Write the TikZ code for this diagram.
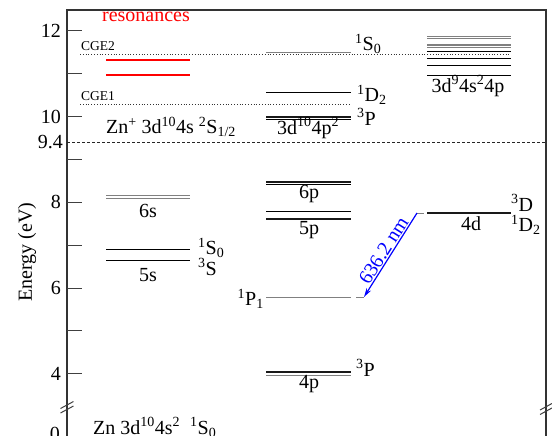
\documentclass[tikz,border=0pt]{standalone}
\usepackage{fontspec}
\setmainfont{Liberation Serif}
\usetikzlibrary{arrows.meta}
\begin{document}
\begin{tikzpicture}[x=1pt,y=-1pt,
  lev/.style={line width=0.9pt,black},
  levthick/.style={line width=1.7pt,black!90},
  levgray/.style={line width=1pt,black!50},
  res/.style={line width=2.8pt,red},
  framel/.style={line width=1.1pt,black!80},
  tickl/.style={line width=1pt,black!75},
  dotl/.style={line width=0.8pt,black!80,dotted},
  dashl/.style={line width=0.8pt,black!85,dash pattern=on 3pt off 2pt},
  lbl/.style={font=\fontsize{20}{22}\selectfont,inner sep=0pt},
  smalllbl/.style={font=\fontsize{13.5}{15}\selectfont,inner sep=0pt},
  transarrow/.style={-{Stealth[length=9pt,width=5pt]},blue,line width=1.2pt}
]
\useasboundingbox (0,0) rectangle (552,436);
% frame
\draw[framel] (67,436) -- (67,10) -- (546,10) -- (546,436);
% axis breaks
\draw[tickl] (60.5,408.5) -- (73.5,401.5) (60.5,413) -- (73.5,406);
\draw[tickl] (540,410) -- (552,403.5) (540,414.5) -- (552,408);
% ticks
\foreach \yy in {30.9,73.75,116.6,159.45,202.3,245.15,288,330.85,373.7}
  \draw[tickl] (67,\yy) -- (82,\yy);
% tick labels
\node[lbl,anchor=east] (t12) at (61,30.9) {12};
\node[lbl,anchor=east] (t10) at (61,116.6) {10};
\node[lbl,anchor=east] (t94) at (63,142.5) {9.4};
\node[lbl,anchor=east] (t8) at (61,202.3) {8};
\node[lbl,anchor=east] (t6) at (61,288) {6};
\node[lbl,anchor=east] (t4) at (61,373.7) {4};
\node[lbl,anchor=east] (t0) at (60,434) {0};
\node[lbl,rotate=90] (ylab) at (27,252) {Energy (eV)};
% ionisation limit and CGE lines
\draw[dashl] (67,142.5) -- (546,142.5);
\draw[dotl] (80,54) -- (511,54);
\draw[dotl] (80,104) -- (351,104);
\node[smalllbl,anchor=south west] (cge2) at (81,51) {CGE2};
\node[smalllbl,anchor=south west] (cge1) at (81,101) {CGE1};
\node[lbl,text=red] (resl) at (146,17) {resonances};
\node[lbl] (ion) at (171,127) {Zn\textsuperscript{+} 3d\textsuperscript{10}4s \textsuperscript{2}S\textsubscript{1/2}};
\node[lbl,anchor=base west] (ground) at (93,434) {Zn 3d\textsuperscript{10}4s\textsuperscript{2}\ \ \textsuperscript{1}S\textsubscript{0}};
% column 1
\draw[res] (106,60) -- (190,60);
\draw[res] (106,75) -- (190,75);
\draw[levgray] (106,195.5) -- (190,195.5);
\draw[levgray] (106,198.3) -- (190,198.3);
\draw[lev] (106,249) -- (190,249);
\draw[lev] (106,260) -- (190,260);
\node[lbl] (l6s) at (148,211) {6s};
\node[lbl] (l5s) at (148,275) {5s};
\node[lbl,anchor=west] (s1s0) at (198,248) {\textsuperscript{1}S\textsubscript{0}};
\node[lbl,anchor=west] (s3s) at (198,267) {\textsuperscript{3}S};
% column 2
\draw[levgray] (266,53) -- (351,53);
\draw[lev] (266,92) -- (351,92);
\draw[levthick] (266,116.8) -- (351,116.8);
\draw[lev] (266,119.8) -- (351,119.8);
\draw[levthick] (266,181.8) -- (351,181.8);
\draw[lev] (266,184.8) -- (351,184.8);
\draw[lev] (266,211.5) -- (351,211.5);
\draw[levthick] (266,219) -- (351,219);
\draw[levgray] (266,297) -- (351,297);
\draw[levgray] (356,297) -- (364,297);
\draw[levthick] (266,372) -- (351,372);
\draw[levgray] (266,375) -- (351,375);
\node[lbl,anchor=west] (p1s0) at (355,44) {\textsuperscript{1}S\textsubscript{0}};
\node[lbl,anchor=west] (p1d2) at (357,95) {\textsuperscript{1}D\textsubscript{2}};
\node[lbl,anchor=west] (p3p) at (357,117) {\textsuperscript{3}P};
\node[lbl] (p4p2) at (308,128) {3d\textsuperscript{10}4p\textsuperscript{2}};
\node[lbl] (l6p) at (309,194) {6p};
\node[lbl] (l5p) at (309,230) {5p};
\node[lbl,anchor=east] (p1p1) at (264,299) {\textsuperscript{1}P\textsubscript{1}};
\node[lbl] (l4p) at (309,384) {4p};
\node[lbl,anchor=west] (p3p4) at (356,368) {\textsuperscript{3}P};
% column 3
\foreach \yy in {37,39,44.3,46,47.7}
  \draw[levgray] (427,\yy) -- (511,\yy);
\foreach \yy in {51.3,58.3,65.7,75.7}
  \draw[lev] (427,\yy) -- (511,\yy);
\node[lbl] (d9) at (468,86) {3d\textsuperscript{9}4s\textsuperscript{2}4p};
\draw[levthick] (427,213) -- (511,213);
\draw[levgray] (417,213) -- (424,213);
\node[lbl] (l4d) at (471,224) {4d};
\node[lbl,anchor=west] (d3d) at (511,203) {\textsuperscript{3}D};
\node[lbl,anchor=west] (d1d2) at (511,225) {\textsuperscript{1}D\textsubscript{2}};
% transition
\coordinate (upper) at (417,213);
\coordinate (lower) at (364,297);
\draw[transarrow] (upper) -- (lower)
  node[midway,sloped,above=1pt,lbl,text=blue] (wl) {636.2 nm};
\end{tikzpicture}
\end{document}
